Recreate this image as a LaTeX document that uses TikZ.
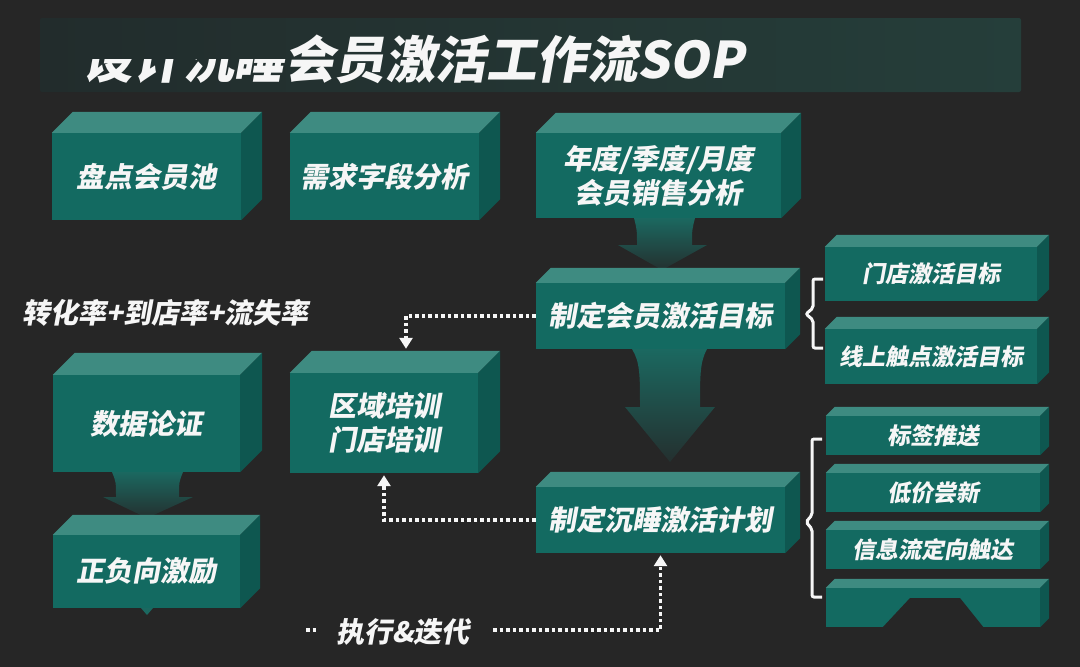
\documentclass[tikz,border=0pt]{standalone}
\usepackage{fontspec}
\setmainfont{Noto Sans CJK SC}[UprightFont=* Black, FakeSlant=0.18]
\usetikzlibrary{arrows.meta}
\definecolor{bgdark}{RGB}{38,38,38}
\definecolor{bandleft}{RGB}{34,44,44}
\definecolor{bandright}{RGB}{37,62,58}
\definecolor{cubefront}{RGB}{19,106,97}
\definecolor{cubetop}{RGB}{62,139,129}
\definecolor{cubeside}{RGB}{14,87,80}
\definecolor{arrowtop}{RGB}{27,104,96}
\definecolor{arrowend}{RGB}{36,48,47}
\definecolor{inkwhite}{RGB}{246,246,246}
\tikzset{
  cube/.style={fill=cubefront, inner sep=0pt, text=inkwhite, align=center, font=\fontsize{28}{34}\selectfont},
  subcube/.style={cube, font=\fontsize{23}{28}\selectfont},
  heading/.style={inner sep=0pt, text=inkwhite, font=\fontsize{50.5}{58}\selectfont},
  plain/.style={inner sep=0pt, text=inkwhite, font=\fontsize{28}{34}\selectfont},
  dotline/.style={draw=inkwhite, line width=3.5pt, dash pattern=on 3.5pt off 3pt},
  tip/.style={-{Triangle[width=13pt, length=11pt]}},
  brace/.style={draw=inkwhite, line width=3pt, rounded corners=2pt},
  fade/.style={top color=arrowtop, bottom color=arrowend},
}
% top and right faces of a box: node name, depth
\newcommand{\cubefaces}[2]{%
  \fill[cubetop] (#1.north west) -- ++(#2,-#2) -- ([shift={(#2,-#2)}]#1.north east) -- (#1.north east) -- cycle;
  \fill[cubeside] (#1.north east) -- ++(#2,-#2) -- ([shift={(#2,-#2)}]#1.south east) -- (#1.south east) -- cycle;
}
\begin{document}
\begin{tikzpicture}[x=1pt, y=-1pt]
\fill[bgdark] (0,0) rectangle (1080,667);
\useasboundingbox (0,0) rectangle (1080,667);
% title band
\shade[left color=bandleft, right color=bandright, rounded corners=2pt] (40,18) rectangle (1021,92);
\node[heading, anchor=base west] (title) at (82,78) {\phantom{设计沉睡}会员激活工作流SOP};
\begin{scope}
\clip (60,59) rectangle (290,95);
\node[heading, anchor=base west] (titlecut) at (82,78) {设计沉睡\phantom{会员激活工作流SOP}};
\end{scope}
% fading arrows
\shade[fade] (634,218) .. controls (637,230) .. (637,245) -- (618,245) -- (662,270) -- (707,245) -- (692,245) .. controls (692,230) .. (695,218) -- cycle;
\shade[fade] (632,349) .. controls (640,362) and (640,375) .. (640,407) -- (625,407) -- (670,462) -- (715,407) -- (700,407) .. controls (700,375) and (700,362) .. (707,349) -- cycle;
\shade[fade] (112,472) .. controls (116,482) .. (116,497) -- (103,497) -- (147,518) -- (193,497) -- (179,497) .. controls (179,482) .. (183,472) -- cycle;
% boxes
\node[cube, minimum width=189pt, minimum height=87pt] (pool) at (146.5,176.5) {盘点会员池};
\cubefaces{pool}{21}
\node[cube, minimum width=189pt, minimum height=87pt] (field) at (384.5,176.5) {需求字段分析};
\cubefaces{field}{21}
\node[cube, minimum width=245pt, minimum height=85pt] (sales) at (658.5,175.5) {年度/季度/月度\\会员销售分析};
\cubefaces{sales}{20}
\node[cube, minimum width=249pt, minimum height=66pt] (goal) at (660.5,316) {制定会员激活目标};
\cubefaces{goal}{15}
\node[cube, minimum width=249pt, minimum height=66pt] (plan) at (660.5,520) {制定沉睡激活计划};
\cubefaces{plan}{15}
\node[cube, minimum width=187pt, minimum height=97pt] (proof) at (146.5,423.5) {数据论证};
\cubefaces{proof}{22}
\node[cube, minimum width=187pt, minimum height=73pt] (incent) at (146.5,571.5) {正负向激励};
\cubefaces{incent}{20}
\fill[arrowtop] (141,608) -- (153,608) -- (147,615) -- cycle;
\node[cube, minimum width=188pt, minimum height=100pt] (train) at (384,423) {区域培训\\门店培训};
\cubefaces{train}{22}
\node[subcube, minimum width=212pt, minimum height=54pt] (storegoal) at (931,274) {门店激活目标};
\cubefaces{storegoal}{12}
\node[subcube, minimum width=212pt, minimum height=55pt] (onlinegoal) at (931,356.5) {线上触点激活目标};
\cubefaces{onlinegoal}{12}
\node[subcube, minimum width=214pt, minimum height=39pt] (tag) at (933,435.5) {标签推送};
\cubefaces{tag}{9}
\node[subcube, minimum width=214pt, minimum height=39pt] (lowprice) at (933,492.5) {低价尝新};
\cubefaces{lowprice}{9}
\node[subcube, minimum width=214pt, minimum height=39pt] (feed) at (933,549.5) {信息流定向触达};
\cubefaces{feed}{9}
\node[subcube, minimum width=214pt, minimum height=39pt] (blank) at (933,607.5) {};
\cubefaces{blank}{9}
\fill[bgdark] (910,598) -- (960,598) -- (984,628) -- (882,628) -- cycle;
% labels
\node[plain, anchor=west] (rates) at (22,313) {转化率+到店率+流失率};
\node[plain] (exec) at (403,632) {执行\&迭代};
% dotted links
\coordinate (traintop) at ([shift={(22,-24)}]train.north);
\coordinate (execend) at (493,630);
\draw[dotline, tip] (goal.west) -| (traintop);
\draw[dotline, tip] (plan.west) -| ([yshift=-2pt]train.south);
\draw[dotline, tip] (execend) -| ([yshift=-2pt]plan.south);
\draw[dotline] (306,630) -- (316,630);
% braces
\draw[brace] (823,279) -- (813,279) -- (813,308) -- (806,314) -- (813,320) -- (813,348) -- (823,348);
\draw[brace] (822,439) -- (812,439) -- (812,515) -- (806,522) -- (812,529) -- (812,597) -- (822,597);
\end{tikzpicture}
\end{document}
